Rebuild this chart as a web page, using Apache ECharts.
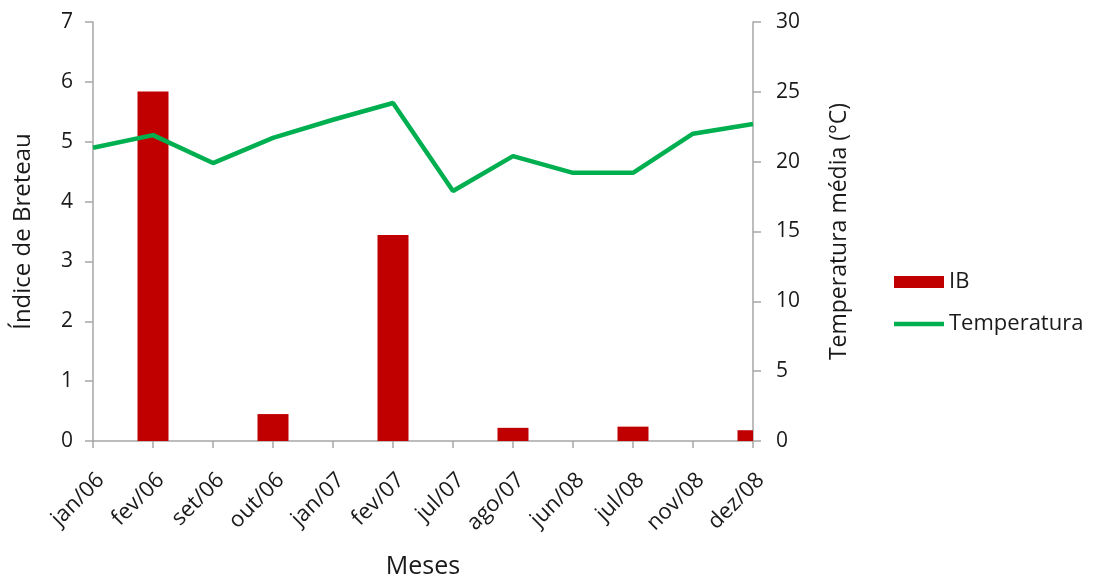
<!DOCTYPE html>
<html>
<head>
<meta charset="utf-8">
<script src="https://cdn.jsdelivr.net/npm/echarts@6/dist/echarts.min.js"></script>
<style>
  html, body { margin: 0; padding: 0; background: #fff; }
  #main { width: 1096px; height: 578px; }
</style>
</head>
<body>
<div id="main"></div>
<script>
// meses amostrados
const meses = ['jan/06', 'fev/06', 'set/06', 'out/06', 'jan/07', 'fev/07', 'jul/07', 'ago/07', 'jun/08', 'jul/08', 'nov/08', 'dez/08'];
// índice de Breteau (IB)
const ib = [0, 5.84, 0, 0.45, 0, 3.44, 0, 0.22, 0, 0.24, 0, 0.18];
// temperatura média (°C)
const temperatura = [21.0, 21.9, 19.9, 21.7, 23.0, 24.2, 17.9, 20.4, 19.2, 19.2, 22.0, 22.7];

const fonte = 'Open Sans, sans-serif';
const corTexto = '#1a1a1a';
const corEixo = '#a6a6a6';
const larguraBarra = 31;

const myChart = echarts.init(document.getElementById('main'));

// barras desenhadas com custom series pra poder cortar a última no eixo direito
const renderBarra = (params, api) => {
  const topo = api.coord([api.value(0), api.value(1)]);
  const base = api.coord([api.value(0), 0]);
  const rect = echarts.graphic.clipRectByRect({
    x: topo[0] - larguraBarra / 2,
    y: topo[1],
    width: larguraBarra,
    height: base[1] - topo[1]
  }, {
    x: params.coordSys.x,
    y: params.coordSys.y,
    width: params.coordSys.width,
    height: params.coordSys.height
  });
  return rect && {
    type: 'rect',
    shape: rect,
    style: { fill: '#c00000' }
  };
};

const option = {
  animation: false,
  backgroundColor: '#fff',
  textStyle: { fontFamily: fonte, color: corTexto },
  grid: { left: 93, right: 343, top: 22, bottom: 137, containLabel: false, outerBoundsMode: 'none' },
  legend: {
    orient: 'vertical',
    left: 894,
    top: 271,
    padding: 0,
    itemWidth: 50,
    itemHeight: 12,
    itemGap: 20,
    textStyle: { fontSize: 22, color: corTexto, fontFamily: fonte },
    data: [
      { name: 'IB', icon: 'rect', itemStyle: { color: '#c00000' } },
      { name: 'Temperatura', icon: 'path://M0,0H50V4.5H0Z', itemStyle: { color: '#00b050' } }
    ]
  },
  xAxis: {
    type: 'category',
    data: meses,
    boundaryGap: false,
    name: 'Meses',
    nameLocation: 'middle',
    nameGap: 113,
    nameTextStyle: { fontSize: 25, color: corTexto },
    axisLine: { lineStyle: { color: corEixo, width: 1.5 } },
    axisTick: { show: true, length: 7, lineStyle: { color: corEixo, width: 1.5 } },
    axisLabel: { rotate: 45, fontSize: 22, color: corTexto, margin: 28, interval: 0, verticalAlign: 'top' },
    splitLine: { show: false }
  },
  yAxis: [
    {
      type: 'value',
      min: 0,
      max: 7,
      interval: 1,
      name: 'Índice de Breteau',
      nameLocation: 'middle',
      nameGap: 58,
      nameTextStyle: { fontSize: 24, color: corTexto },
      axisLine: { show: true, lineStyle: { color: corEixo, width: 1.5 } },
      axisTick: { show: true, length: 8, lineStyle: { color: corEixo, width: 1.5 } },
      axisLabel: { fontSize: 21, color: corTexto, margin: 20 },
      splitLine: { show: false }
    },
    {
      type: 'value',
      min: 0,
      max: 30,
      interval: 5,
      position: 'right',
      name: 'Temperatura média (°C)',
      nameLocation: 'middle',
      nameGap: 75,
      nameTextStyle: { fontSize: 23, color: corTexto },
      axisLine: { show: true, lineStyle: { color: corEixo, width: 1.5 } },
      axisTick: { show: true, length: 8, lineStyle: { color: corEixo, width: 1.5 } },
      axisLabel: { fontSize: 21, color: corTexto, margin: 23 },
      splitLine: { show: false }
    }
  ],
  series: [
    {
      name: 'IB',
      type: 'custom',
      data: ib.map((v, i) => [i, v]),
      yAxisIndex: 0,
      encode: { x: 0, y: 1 },
      renderItem: renderBarra,
      itemStyle: { color: '#c00000' }
    },
    {
      name: 'Temperatura',
      type: 'line',
      data: temperatura,
      yAxisIndex: 1,
      symbol: 'none',
      lineStyle: { color: '#00b050', width: 4.5 },
      itemStyle: { color: '#00b050' }
    }
  ]
};

myChart.setOption(option);
</script>
</body>
</html>
